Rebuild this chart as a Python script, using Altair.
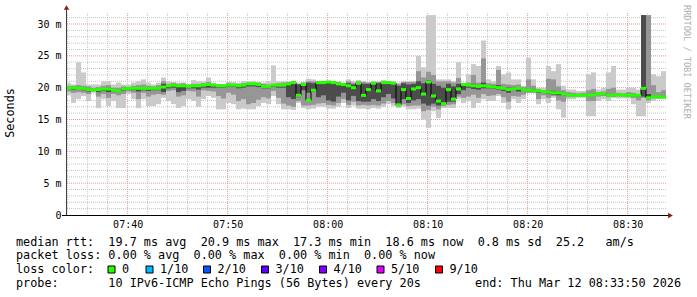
import altair as alt
import pandas as pd

# ---- time axis: one hour ending 08:33:50, minutes since midnight ----
START_MIN = 7 * 60 + 33 + 50 / 60.0
STEP_MIN = 0.5
SPAN_MIN = 60.0
Y_MAX = 31.73

# ---- median rtt per 30 s step (ms) ----
MED = [20.0, 20.0, 19.9, 19.9, 19.7, 19.7, 19.7, 19.8, 19.8, 19.6,
       19.5, 19.8, 19.9, 19.9, 19.9, 19.9, 19.9, 19.9, 19.9, 20.1,
       20.3, 20.4, 20.3, 20.3, 20.2, 20.3, 20.3, 20.4, 20.5, 20.4,
       20.3, 20.3, 20.4, 20.4, 20.3, 20.4, 20.6, 20.6, 20.5, 20.2,
       20.2, 20.4, 20.4, 20.4, 20.6, 20.8, 18.8, 20.5, 18.0, 19.6,
       20.8, 20.8, 20.9, 20.8, 20.6, 20.5, 20.3, 20.0, 20.7, 18.8,
       19.7, 20.7, 19.5, 20.8, 20.8, 20.7, 17.3, 19.7, 18.3, 19.8,
       20.0, 19.0, 20.9, 18.7, 17.9, 17.5, 19.7, 18.2, 19.8, 20.5,
       20.4, 20.3, 20.2, 20.3, 20.2, 20.1, 20.0, 19.9, 19.7, 19.8,
       19.9, 19.7, 19.6, 19.5, 19.5, 19.4, 19.3, 19.2, 19.2, 19.0,
       18.8, 18.8, 18.8, 18.8, 18.8, 18.9, 19.0, 19.1, 18.8, 18.8,
       18.9, 18.8, 18.8, 18.8, 18.8, 19.9, 18.4, 18.6, 18.6, 18.5]

# ---- outer smoke (lightest pair) ----
HI = [20.8, 20.5, 24.0, 22.4, 20.5, 20.5, 20.5, 21.0, 21.0, 20.5,
      20.8, 20.5, 20.5, 20.8, 21.0, 21.3, 20.8, 20.5, 20.8, 21.6,
      21.0, 20.8, 20.8, 20.8, 20.5, 21.2, 21.0, 21.0, 21.6, 20.8,
      20.5, 20.5, 20.9, 20.9, 20.8, 21.0, 21.0, 21.0, 20.9, 20.8,
      21.0, 23.5, 21.0, 21.0, 21.0, 21.0, 20.8, 20.9, 21.4, 21.3,
      21.0, 21.0, 21.0, 21.0, 21.0, 20.8, 21.3, 21.0, 21.2, 21.0,
      20.9, 21.0, 21.0, 21.2, 21.0, 21.0, 20.8, 21.0, 21.0, 21.0,
      25.0, 23.2, 31.4, 31.4, 21.3, 21.3, 21.3, 21.0, 24.0, 20.5,
      22.1, 23.7, 23.4, 27.4, 21.3, 21.0, 23.4, 22.1, 22.4, 21.3,
      21.3, 20.3, 24.7, 21.3, 20.0, 20.0, 23.4, 22.6, 23.7, 20.3,
      19.7, 19.7, 19.5, 19.5, 22.1, 22.4, 19.7, 20.0, 22.4, 23.4,
      19.7, 19.7, 20.0, 20.0, 19.7, 31.4, 31.4, 22.1, 21.8, 22.6]
LO = [18.8, 17.6, 18.2, 18.7, 17.9, 19.2, 16.8, 18.2, 17.1, 17.9,
      16.8, 16.8, 19.0, 18.2, 16.8, 18.2, 17.1, 17.1, 17.4, 18.4,
      17.9, 17.4, 16.8, 17.1, 18.2, 17.9, 17.0, 18.2, 18.7, 18.4,
      16.6, 16.6, 17.6, 17.4, 16.6, 16.7, 16.6, 16.6, 17.1, 17.6,
      17.4, 18.7, 17.4, 16.6, 16.6, 16.5, 17.6, 16.8, 16.6, 16.7,
      17.0, 17.0, 16.7, 16.7, 17.0, 17.6, 16.8, 17.2, 16.7, 16.7,
      16.6, 16.8, 16.7, 17.0, 17.4, 17.1, 16.8, 17.0, 16.6, 16.6,
      16.7, 15.0, 13.7, 16.3, 15.2, 16.8, 16.8, 16.8, 18.2, 17.6,
      17.9, 16.8, 17.6, 18.2, 17.9, 17.9, 18.7, 17.6, 16.6, 18.2,
      17.6, 18.2, 19.2, 19.2, 17.4, 18.2, 17.6, 18.4, 16.6, 15.3,
      18.2, 18.2, 18.4, 18.4, 15.5, 15.5, 17.9, 18.2, 17.9, 18.4,
      18.3, 18.3, 18.3, 17.4, 15.5, 15.5, 17.6, 17.9, 18.2, 18.3]

# ---- middle smoke ----
MHI = [20.3, 20.3, 20.4, 20.3, 20.2, 20.0, 20.1, 20.3, 20.4, 20.0,
       20.0, 20.2, 20.1, 20.3, 20.4, 20.5, 20.3, 20.2, 20.4, 21.0,
       20.6, 20.8, 20.6, 20.7, 20.5, 20.6, 20.6, 20.7, 20.9, 20.6,
       20.5, 20.5, 20.7, 20.6, 20.6, 20.7, 20.8, 20.8, 20.8, 20.6,
       20.5, 20.6, 20.7, 20.8, 20.9, 21.0, 20.6, 20.8, 21.0, 21.0,
       21.0, 21.0, 21.0, 21.0, 20.9, 20.7, 21.0, 20.8, 21.0, 20.9,
       20.8, 20.9, 20.9, 21.0, 20.9, 20.9, 20.6, 20.9, 20.9, 20.9,
       22.6, 21.6, 22.5, 22.0, 21.0, 21.0, 21.0, 20.8, 21.5, 20.7,
       20.8, 22.0, 20.8, 24.6, 20.7, 20.6, 22.8, 20.6, 20.5, 20.4,
       20.5, 20.1, 21.3, 20.3, 19.8, 19.6, 21.4, 21.3, 20.2, 19.6,
       19.3, 19.2, 19.1, 19.2, 19.6, 19.8, 19.3, 19.4, 19.8, 20.0,
       19.2, 19.1, 19.3, 19.2, 19.0, 31.4, 31.4, 20.4, 19.3, 19.6]
MLO = [19.4, 19.2, 19.3, 19.2, 19.0, 19.4, 18.6, 19.0, 18.4, 19.0,
       18.8, 19.0, 19.4, 19.2, 18.2, 19.2, 18.6, 18.9, 19.0, 18.9,
       19.5, 19.6, 18.6, 18.8, 19.5, 19.4, 18.6, 19.6, 19.5, 19.4,
       18.7, 18.3, 19.2, 18.9, 17.9, 18.2, 17.4, 17.6, 18.1, 18.5,
       18.3, 19.5, 18.4, 17.5, 17.2, 17.0, 17.9, 17.2, 17.2, 17.3,
       17.5, 17.6, 17.3, 17.2, 17.6, 18.2, 17.3, 17.8, 17.2, 17.3,
       17.2, 17.3, 17.2, 17.5, 17.9, 17.6, 17.2, 17.4, 17.1, 17.2,
       17.2, 16.3, 16.5, 17.0, 16.6, 17.1, 17.3, 17.4, 18.6, 18.4,
       18.6, 18.9, 18.4, 19.0, 18.7, 18.8, 19.0, 18.5, 17.8, 18.7,
       18.6, 18.9, 19.2, 19.2, 18.2, 18.8, 18.4, 18.7, 18.0, 17.8,
       18.5, 18.5, 18.6, 18.6, 17.9, 17.9, 18.6, 18.7, 18.5, 18.6,
       18.6, 18.6, 18.5, 18.4, 18.0, 18.4, 18.0, 18.3, 18.3, 18.4]

# ---- inner smoke (darkest) ----
DHI = [20.1, 20.1, 20.0, 20.0, 19.9, 19.8, 19.8, 19.9, 20.0, 19.8,
       19.6, 19.9, 20.0, 20.0, 20.0, 20.0, 20.0, 20.0, 20.0, 20.6,
       20.4, 20.5, 20.4, 20.4, 20.3, 20.4, 20.4, 20.5, 20.6, 20.5,
       20.4, 20.4, 20.5, 20.5, 20.4, 20.5, 20.7, 20.7, 20.6, 20.3,
       20.3, 20.5, 20.5, 20.5, 20.7, 20.9, 20.5, 20.6, 20.8, 20.7,
       20.9, 20.9, 20.9, 20.9, 20.7, 20.6, 20.7, 20.5, 20.8, 20.6,
       20.6, 20.8, 20.7, 20.9, 20.8, 20.8, 20.3, 20.7, 20.5, 20.6,
       21.0, 20.7, 21.2, 20.6, 20.3, 20.0, 20.6, 20.2, 20.6, 20.6,
       20.5, 20.6, 20.4, 20.8, 20.4, 20.3, 20.4, 20.1, 20.0, 20.0,
       20.1, 19.9, 19.8, 19.7, 19.6, 19.5, 19.5, 19.5, 19.4, 19.1,
       18.9, 18.9, 18.9, 18.9, 19.0, 19.1, 19.1, 19.2, 19.0, 19.0,
       19.0, 18.9, 18.9, 18.9, 18.9, 31.4, 19.0, 18.8, 18.8, 18.7]
DLO = [19.8, 19.7, 19.7, 19.6, 19.4, 19.6, 19.3, 19.5, 19.3, 19.4,
       19.3, 19.5, 19.7, 19.6, 19.4, 19.6, 19.5, 19.6, 19.6, 19.3,
       19.9, 20.0, 19.3, 19.5, 19.9, 19.9, 19.7, 20.0, 20.0, 20.0,
       20.0, 20.0, 20.1, 20.1, 19.9, 20.0, 20.2, 20.2, 20.1, 19.9,
       19.9, 20.1, 20.0, 20.0, 18.5, 18.2, 18.5, 19.6, 19.2, 19.4,
       18.5, 18.8, 18.0, 17.8, 18.6, 19.2, 18.0, 18.7, 17.9, 17.8,
       17.8, 18.2, 17.9, 18.5, 19.0, 18.3, 17.1, 18.2, 17.6, 18.0,
       18.2, 17.5, 17.2, 17.5, 17.2, 17.3, 17.8, 17.8, 19.0, 19.6,
       20.0, 19.8, 19.7, 19.9, 19.9, 19.8, 19.7, 19.5, 19.2, 19.6,
       19.4, 19.5, 19.4, 19.3, 19.2, 19.2, 19.0, 18.9, 18.8, 18.8,
       18.7, 18.7, 18.7, 18.7, 18.6, 18.7, 18.9, 18.9, 18.7, 18.6,
       18.8, 18.7, 18.7, 18.6, 18.6, 18.6, 18.2, 18.4, 18.4, 18.4]

# ---- axis ticks ----
X_TICKS = [460, 470, 480, 490, 500, 510]
Y_TICKS = [0, 5, 10, 15, 20, 25, 30]

# ---- legend texts ----
LEGEND_RTT = "median rtt:  19.7 ms avg  20.9 ms max  17.3 ms min  18.6 ms now  0.8 ms sd  25.2   am/s"
LEGEND_LOSS = "packet loss: 0.00 % avg  0.00 % max  0.00 % min  0.00 % now"
LEGEND_COLOR = "loss color:"
LOSS_LABELS = ["0", "1/10", "2/10", "3/10", "4/10", "5/10", "9/10"]
LOSS_COLORS = ["#26ff00", "#00b8ff", "#0059ff", "#5e00ff", "#7e00ff", "#dd00ff", "#ff0000"]
LEGEND_PROBE = "probe:       10 IPv6-ICMP Echo Pings (56 Bytes) every 20s"
LEGEND_END = "end: Thu Mar 12 08:33:50 2026"
Y_TITLE = "Seconds"
WATERMARK = "RRDTOOL / TOBI OETIKER"

# ================= build =================
PLOT_W, PLOT_H = 600, 202
PAD_L, PAD_T = 66, 13
MONO = "DejaVu Sans Mono"
NB = "\u00a0"


def mono(s):
    return s.replace(" ", NB)


n = len(MED)
df = pd.DataFrame({
    "t0": [START_MIN + i * STEP_MIN for i in range(n)],
    "med": MED, "lo": LO, "hi": HI,
    "mlo": MLO, "mhi": MHI, "dlo": DLO, "dhi": DHI,
})
df["t1"] = df["t0"] + STEP_MIN
df["glo"] = df["med"] - 0.24
df["ghi"] = df["med"] + 0.24

xs = alt.Scale(domain=[START_MIN, START_MIN + SPAN_MIN], nice=False, zero=False)
ys = alt.Scale(domain=[0, Y_MAX], nice=False, zero=False)

x_label_expr = ("(datum.value < 600 ? '0' : '') + floor(datum.value / 60) + ':' + "
                "(datum.value % 60 < 10 ? '0' : '') + (datum.value % 60)")
AX = alt.Axis(values=X_TICKS, labelExpr=x_label_expr, grid=False, ticks=False, domain=False,
              title=None, labelPadding=4, labelFont=MONO, labelFontSize=10, labelColor="#000000")
AY = alt.Axis(values=Y_TICKS, labelExpr="datum.value == 0 ? '0' : datum.value + '" + NB + "m'",
              grid=False, ticks=False, domain=False, title=None, labelPadding=5,
              labelFont=MONO, labelFontSize=10, labelColor="#000000")


def X(f):
    return alt.X(f, scale=xs, axis=AX)


def Y(f):
    return alt.Y(f, scale=ys, axis=AY)


minor_x = pd.DataFrame({"t": [m for m in range(454, 514, 2) if m % 10 != 0]})
major_x = pd.DataFrame({"t": X_TICKS})
minor_y = pd.DataFrame({"v": [v for v in range(1, 32) if v % 5 != 0]})
major_y = pd.DataFrame({"v": Y_TICKS[1:]})

GRID_MINOR = "#c4c4c4"
GRID_MAJOR = "#e49a9a"

base_axes = alt.Chart(df).mark_rect(opacity=0).encode(x=X("t0:Q"), x2="t1:Q", y=Y("lo:Q"), y2="hi:Q")
g1 = alt.Chart(minor_x).mark_rule(color=GRID_MINOR, strokeDash=[1, 1], strokeWidth=1).encode(x=X("t:Q"))
g2 = alt.Chart(minor_y).mark_rule(color=GRID_MINOR, strokeDash=[1, 1], strokeWidth=1).encode(y=Y("v:Q"))
g3 = alt.Chart(major_x).mark_rule(color=GRID_MAJOR, strokeDash=[1, 1], strokeWidth=1).encode(x=X("t:Q"))
g4 = alt.Chart(major_y).mark_rule(color=GRID_MAJOR, strokeDash=[1, 1], strokeWidth=1).encode(y=Y("v:Q"))

light = alt.Chart(df).mark_rect(color="#cacaca").encode(x=X("t0:Q"), x2="t1:Q", y=Y("lo:Q"), y2="hi:Q")
mid = alt.Chart(df).mark_rect(color="#969696").encode(x=X("t0:Q"), x2="t1:Q", y=Y("mlo:Q"), y2="mhi:Q")
dark = alt.Chart(df).mark_rect(color="#4c4c4c").encode(x=X("t0:Q"), x2="t1:Q", y=Y("dlo:Q"), y2="dhi:Q")
medline = alt.Chart(df).mark_line(color="#000000", strokeWidth=1, interpolate="step-after").encode(
    x=X("t0:Q"), y=Y("med:Q"))
green = alt.Chart(df).mark_rect(color=LOSS_COLORS[0]).encode(x=X("t0:Q"), x2="t1:Q", y=Y("glo:Q"), y2="ghi:Q")

one = pd.DataFrame({"k": [0]})
y_axis_line = alt.Chart(one).mark_rule(color="#404040", strokeWidth=1).encode(
    x=alt.value(0.5), y=alt.value(-4), y2=alt.value(PLOT_H))
x_axis_line = alt.Chart(one).mark_rule(color="#000000", strokeWidth=1).encode(
    x=alt.value(-4), x2=alt.value(PLOT_W + 3), y=alt.value(PLOT_H + 0.5))
arrow_up = alt.Chart(one).mark_point(shape="triangle-up", filled=True, size=30, color="#8b1a1a",
                                     opacity=1).encode(x=alt.value(0.5), y=alt.value(-5.5))
arrow_right = alt.Chart(one).mark_point(shape="triangle-right", filled=True, size=30, color="#8b1a1a",
                                        opacity=1).encode(x=alt.value(PLOT_W + 4.5), y=alt.value(PLOT_H + 0.5))


def text_at(s, ax, ay, size=11.8, align="left", angle=0, color="#000000", baseline="middle"):
    kw = dict(font=MONO, fontSize=size, align=align, baseline=baseline, color=color)
    if angle:
        kw["angle"] = angle
    return alt.Chart(pd.DataFrame({"s": [mono(s)]})).mark_text(**kw).encode(
        x=alt.value(ax - PAD_L), y=alt.value(ay - PAD_T), text="s:N")


texts = [
    text_at(LEGEND_RTT, 16, 241.7),
    text_at(LEGEND_LOSS, 16, 255.0),
    text_at(LEGEND_COLOR, 16, 269.3),
    text_at(LEGEND_PROBE, 16, 282.7),
    text_at(LEGEND_END, 681, 282.7, align="right"),
    text_at(Y_TITLE, 10, 113, angle=270, align="center"),
    text_at(WATERMARK, 687, 5, size=8.6, angle=90, color="#b0b0b0", align="left"),
]

SQ_X = [111.5, 149.5, 207.0, 265.0, 323.0, 380.5, 439.0]
squares = []
for sx, lab, col in zip(SQ_X, LOSS_LABELS, LOSS_COLORS):
    squares.append(alt.Chart(one).mark_square(size=49, filled=True, color=col, stroke="#000000",
                                              strokeWidth=1, opacity=1).encode(
        x=alt.value(sx - PAD_L), y=alt.value(269.5 - PAD_T)))
    squares.append(text_at(lab, sx + 10.5, 269.3))

chart = alt.layer(
    base_axes, g1, g2, g3, g4, light, mid, dark, medline, green,
    y_axis_line, x_axis_line, arrow_up, arrow_right, *texts, *squares
).properties(
    width=PLOT_W, height=PLOT_H,
    autosize=alt.AutoSizeParams(type="none"),
    padding={"left": PAD_L, "top": PAD_T, "right": 697 - PAD_L - PLOT_W, "bottom": 297 - PAD_T - PLOT_H},
    background="#ffffff",
).configure_view(stroke=None)

chart.save("out.html", embed_options={"renderer": "svg", "actions": False})
